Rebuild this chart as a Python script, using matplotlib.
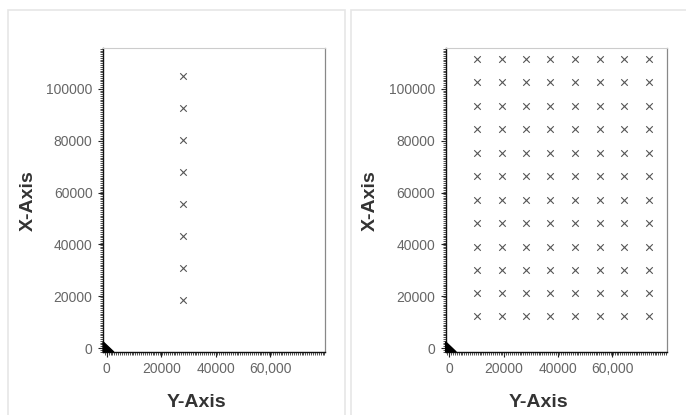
import matplotlib
matplotlib.use("Agg")
import matplotlib.pyplot as plt
from matplotlib.patches import Rectangle
from matplotlib.ticker import MultipleLocator, FixedLocator, FixedFormatter

plt.rcParams['font.family'] = ['Liberation Sans', 'DejaVu Sans']

# ---- data ----
left_x = [27800] * 8
left_y = [18600, 31000, 43300, 55600, 68000, 80300, 92700, 105000]

grid_cols = [10200, 19300, 28400, 37300, 46500, 55500, 64300, 73400]
grid_rows = [12200, 21200, 30200, 39200, 48300, 57300, 66300, 75400,
             84400, 93400, 102500, 111400]

# dark blob near origin (outline of overlapping marks)
blob_x = [-1300, -1300, 2600]
blob_y = [-1500, 2400, -1500]

xtick_vals = [0, 20000, 40000, 60000]
xtick_labels = ["0", "20000", "40000", "60,000"]
ytick_vals = [0, 20000, 40000, 60000, 80000, 100000]
ytick_labels = ["0", "20000", "40000", "60000", "80000", "100000"]

xlim = (-1350, 80000)
ylim = (-1500, 115800)

W, H = 686, 415
fig = plt.figure(figsize=(W / 100, H / 100), dpi=100)
fig.patch.set_facecolor("white")

# cards
for (x0, x1) in [(8, 345), (351, 690)]:
    fig.patches.append(Rectangle((x0 / W, -0.05), (x1 - x0) / W, (H - 10) / H + 0.05,
                                 transform=fig.transFigure, facecolor="white",
                                 edgecolor="#e6e6e6", linewidth=1.2, zorder=-10))


def style_axes(ax):
    ax.set_xlim(*xlim)
    ax.set_ylim(*ylim)
    ax.xaxis.set_major_locator(FixedLocator(xtick_vals))
    ax.xaxis.set_major_formatter(FixedFormatter(xtick_labels))
    ax.yaxis.set_major_locator(FixedLocator(ytick_vals))
    ax.yaxis.set_major_formatter(FixedFormatter(ytick_labels))
    ax.xaxis.set_minor_locator(MultipleLocator(700))
    ax.yaxis.set_minor_locator(MultipleLocator(700))
    ax.tick_params(which="major", length=3.5, width=0.8, color="#222222",
                   labelsize=10, labelcolor="#666666", pad=4)
    ax.tick_params(axis="y", which="minor", length=2.5, width=0.6, color="#333333")
    ax.tick_params(axis="x", which="minor", length=2, width=0.6, color="#333333")
    for s in ["left", "bottom"]:
        ax.spines[s].set_color("#111111")
        ax.spines[s].set_linewidth(1.0)
    ax.spines["top"].set_color("#cccccc")
    ax.spines["top"].set_linewidth(0.8)
    ax.spines["right"].set_color("#888888")
    ax.spines["right"].set_linewidth(0.9)
    ax.fill(blob_x, blob_y, color="black", zorder=5, clip_on=False)


ax1 = fig.add_axes([103 / W, 1 - 352 / H, (325 - 103) / W, (352 - 48) / H])
ax1.scatter(left_x, left_y, marker="x", s=22, color="#555555", linewidths=0.8)
style_axes(ax1)

ax2 = fig.add_axes([445.5 / W, 1 - 352 / H, (666.5 - 445.5) / W, (352 - 48) / H])
gx = [c for r in grid_rows for c in grid_cols]
gy = [r for r in grid_rows for c in grid_cols]
ax2.scatter(gx, gy, marker="x", s=22, color="#555555", linewidths=0.8)
style_axes(ax2)

lab = dict(fontsize=14, fontweight="bold", color="#333333")
fig.text(196 / W, 1 - 402 / H, "Y-Axis", ha="center", va="center", **lab)
fig.text(538 / W, 1 - 402 / H, "Y-Axis", ha="center", va="center", **lab)
fig.text(28 / W, 1 - 201 / H, "X-Axis", ha="center", va="center", rotation=90, **lab)
fig.text(370 / W, 1 - 201 / H, "X-Axis", ha="center", va="center", rotation=90, **lab)

fig.savefig("out.png", dpi=100, facecolor="white")
